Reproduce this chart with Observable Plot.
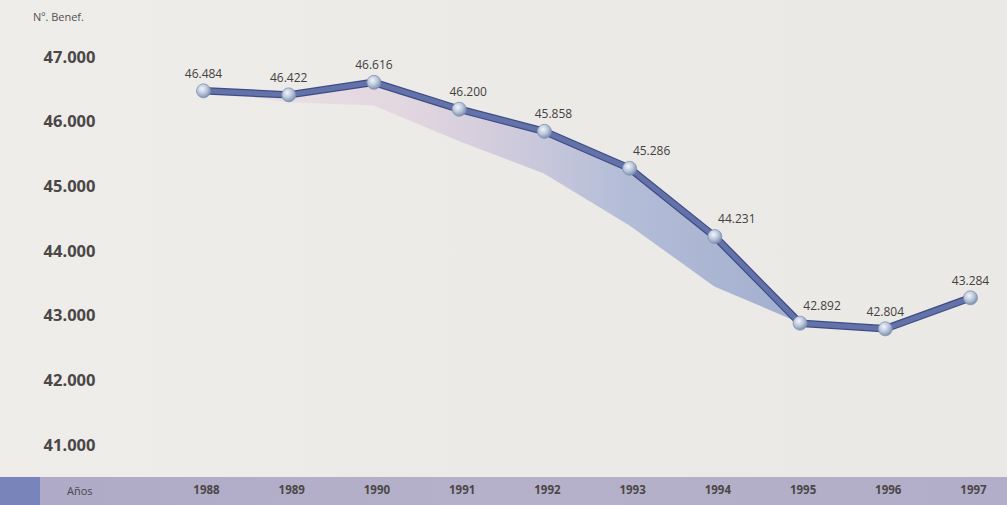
<!DOCTYPE html>
<html>
<head>
<meta charset="utf-8">
<script src="https://cdn.jsdelivr.net/npm/d3@7"></script>
<script src="https://cdn.jsdelivr.net/npm/@observablehq/plot@0.6"></script>
<style>
  html, body { margin: 0; padding: 0; }
  #wrap { position: relative; width: 1007px; height: 505px; overflow: hidden;
    background: linear-gradient(90deg, #efedea 0%, #eceae7 50%, #ebe9e6 100%);
    font-family: "Open Sans", "DejaVu Sans", sans-serif; }
  #band { position: absolute; left: 0; top: 477px; width: 1007px; height: 28px;
    background: linear-gradient(90deg, #aeaac7 0%, #b6b1ca 50%, #b2adc8 100%); }
  #sq { position: absolute; left: 0; top: 0; width: 40px; height: 28px; background: #7884ba; }
  #anos { position: absolute; left: 67px; top: 6px; font-size: 11px; color: #4a4646; }
  #ylab { position: absolute; left: 33px; top: 9px; font-size: 11px; color: #555050; }
  #chart { position: absolute; left: 0; top: 0; }
</style>
</head>
<body>
<div id="wrap">
  <div id="band"><div id="sq"></div><div id="anos">Años</div></div>
  <div id="ylab">Nº. Benef.</div>
  <div id="chart"></div>
</div>
<script>
const years = [1988, 1989, 1990, 1991, 1992, 1993, 1994, 1995, 1996, 1997];
const beneficiarios = [46484, 46422, 46616, 46200, 45858, 45286, 44231, 42892, 42804, 43284];
// lower edge of the decorative shadow ribbon
const shadowLow = [46484, 46300, 46250, 45700, 45200, 44400, 43450, 42892, null, null];
const yTicks = [41000, 42000, 43000, 44000, 45000, 46000, 47000];
const centeredYears = [1988, 1989, 1990, 1996, 1997];
const nearYears = [1991, 1992];
const farYears = [1993, 1994, 1995];

const data = years.map((y, i) => ({year: y, value: beneficiarios[i], low: shadowLow[i]}));
const fmt = d3.formatLocale({decimal: ",", thousands: ".", grouping: [3], currency: ["", ""]}).format(",d");
const lbl = {x: "year", y: "value", text: d => fmt(d.value), dy: -17, fontSize: 12, fill: "#444040"};

const svg = Plot.plot({
  width: 1007,
  height: 505,
  marginTop: 57,
  marginBottom: 60,
  marginLeft: 100,
  marginRight: 37,
  style: {background: "transparent", fontFamily: "'Open Sans', 'DejaVu Sans', sans-serif"},
  x: {domain: [1988, 1997], insetLeft: 103, insetRight: 0},
  y: {domain: [41000, 47000]},
  marks: [
    Plot.axisY({ticks: yTicks, tickFormat: fmt, tickSize: 0, tickPadding: 5, fontSize: 16.5, fontWeight: "bold", color: "#4b4747", label: null}),
    Plot.axisX({ticks: years, tickFormat: d => String(d), tickSize: 0, tickPadding: 40, fontSize: 11.5, fontWeight: "bold", color: "#4b4747", label: null, dx: 3}),
    Plot.areaY(data, {x: "year", y1: "value", y2: "low", fill: "url(#shade)", curve: "linear"}),
    Plot.line(data, {x: "year", y: "value", stroke: "#3f4d86", strokeWidth: 7.5, strokeLinejoin: "round"}),
    Plot.line(data, {x: "year", y: "value", stroke: "#6472aa", strokeWidth: 5, strokeLinejoin: "round"}),
    Plot.dot(data, {x: "year", y: "value", r: 7, fill: "url(#ball)", stroke: "#8493b3", strokeWidth: 0.8}),
    Plot.text(data.filter(d => centeredYears.includes(d.year)), lbl),
    Plot.text(data.filter(d => nearYears.includes(d.year)), {...lbl, dx: 9}),
    Plot.text(data.filter(d => farYears.includes(d.year)), {...lbl, dx: 22})
  ]
});

const defs = d3.select(svg).insert("defs", ":first-child");
const rg = defs.append("radialGradient").attr("id", "ball").attr("cx", "40%").attr("cy", "35%").attr("r", "65%");
rg.append("stop").attr("offset", "0%").attr("stop-color", "#f2f5fa");
rg.append("stop").attr("offset", "55%").attr("stop-color", "#b9c6da");
rg.append("stop").attr("offset", "100%").attr("stop-color", "#7f8fb0");
const lg = defs.append("linearGradient").attr("id", "shade").attr("x1", "0%").attr("x2", "100%").attr("y1", "0%").attr("y2", "0%");
lg.append("stop").attr("offset", "0%").attr("stop-color", "#e6d6df").attr("stop-opacity", 0.4);
lg.append("stop").attr("offset", "35%").attr("stop-color", "#dccadb").attr("stop-opacity", 0.65);
lg.append("stop").attr("offset", "70%").attr("stop-color", "#aab5d5").attr("stop-opacity", 0.85);
lg.append("stop").attr("offset", "100%").attr("stop-color", "#9aa8cc").attr("stop-opacity", 0.9);

document.getElementById("chart").appendChild(svg);
</script>
</body>
</html>
